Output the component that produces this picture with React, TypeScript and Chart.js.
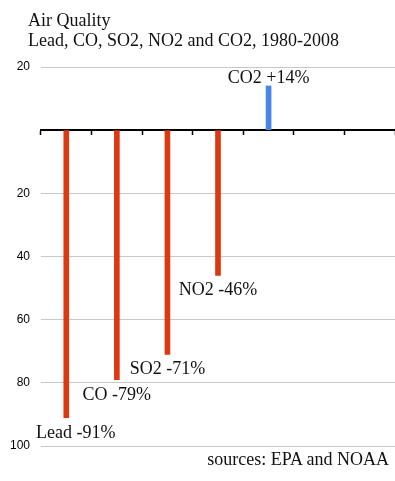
import React, { useEffect, useRef } from "react";
import { Chart, registerables } from "chart.js";

Chart.register(...registerables);

const pollutants = ["Lead", "CO", "SO2", "NO2", "CO2", "", ""];
const changePct = [-91, -79, -71, -46, 14, null, null];
const yTickValues = [20, 0, -20, -40, -60, -80, -100];
const titleLines = ["Air Quality", "Lead, CO, SO2, NO2 and CO2, 1980-2008"];
const sourceNote = "sources: EPA and NOAA";

const RED = "#DC3912";
const BLUE = "#4A86E8";
const SERIF = '"Liberation Serif", "Times New Roman", serif';

const labelPlugin = {
  id: "barLabels",
  afterDatasetsDraw(chart: any) {
    const ctx = chart.ctx;
    const meta = chart.getDatasetMeta(0);
    const area = chart.chartArea;
    ctx.save();
    ctx.font = `18px ${SERIF}`;
    ctx.fillStyle = "#111";
    ctx.textAlign = "center";
    ctx.textBaseline = "alphabetic";
    meta.data.forEach((el: any, i: number) => {
      const v = changePct[i];
      if (v === null || v === undefined) return;
      const text = `${pollutants[i]} ${v > 0 ? "+" : ""}${v}%`;
      const w = ctx.measureText(text).width;
      let x = el.x;
      const minX = area.left - 5 + w / 2;
      if (x < minX) x = minX;
      const y = v < 0 ? el.y + 20 : el.y - 3;
      ctx.fillText(text, x, y);
    });
    ctx.restore();
  },
};

export default function App() {
  const ref = useRef<HTMLCanvasElement | null>(null);
  useEffect(() => {
    if (!ref.current) return;
    const chart = new Chart(ref.current, {
      type: "bar",
      data: {
        labels: pollutants,
        datasets: [
          {
            data: changePct as any,
            backgroundColor: changePct.map((v) => (v !== null && v > 0 ? BLUE : RED)),
            barThickness: 5,
            borderWidth: 0,
          },
        ],
      },
      options: {
        responsive: false,
        animation: false,
        layout: { padding: { top: 67, bottom: 35, left: 0, right: -2 } },
        plugins: {
          legend: { display: false },
          tooltip: { enabled: false },
          title: { display: false },
        },
        scales: {
          x: {
            position: { y: 0 } as any,
            grid: {
              display: true,
              drawOnChartArea: false,
              drawTicks: true,
              tickLength: 4,
              tickColor: "#000",
              tickWidth: 1.5,
              offset: true,
            },
            border: { display: true, color: "#000", width: 2 },
            ticks: { display: false },
          },
          y: {
            min: -100,
            max: 20,
            afterFit: (s: any) => {
              s.width = 41;
            },
            afterBuildTicks: (s: any) => {
              s.ticks = yTickValues.map((v) => ({ value: v }));
            },
            grid: { color: "#c8c8c8", lineWidth: 1, drawTicks: false },
            border: { display: false },
            ticks: {
              padding: 11,
              color: "#000",
              font: { family: '"Liberation Sans", Arial, sans-serif', size: 12 },
              callback: (v: any) => (Number(v) === 0 ? "" : String(Math.abs(Number(v)))),
            },
          },
        },
      },
      plugins: [labelPlugin],
    });
    return () => chart.destroy();
  }, []);

  return (
    <div
      style={{
        position: "absolute",
        left: 0,
        top: 0,
        width: 395,
        height: 481,
        overflow: "hidden",
        background: "#fff",
      }}
    >
      <canvas
        ref={ref}
        width={395}
        height={481}
        style={{ position: "absolute", left: 0, top: 0, width: 395, height: 481 }}
      />
      <div
        style={{
          position: "absolute",
          left: 28,
          top: 10,
          fontFamily: SERIF,
          fontSize: 18,
          lineHeight: "20px",
          color: "#111",
          whiteSpace: "nowrap",
        }}
      >
        {titleLines.map((t) => (
          <div key={t}>{t}</div>
        ))}
      </div>
      <div
        style={{
          position: "absolute",
          right: 6,
          top: 449,
          fontFamily: SERIF,
          fontSize: 18,
          lineHeight: "20px",
          color: "#111",
          whiteSpace: "nowrap",
        }}
      >
        {sourceNote}
      </div>
    </div>
  );
}
